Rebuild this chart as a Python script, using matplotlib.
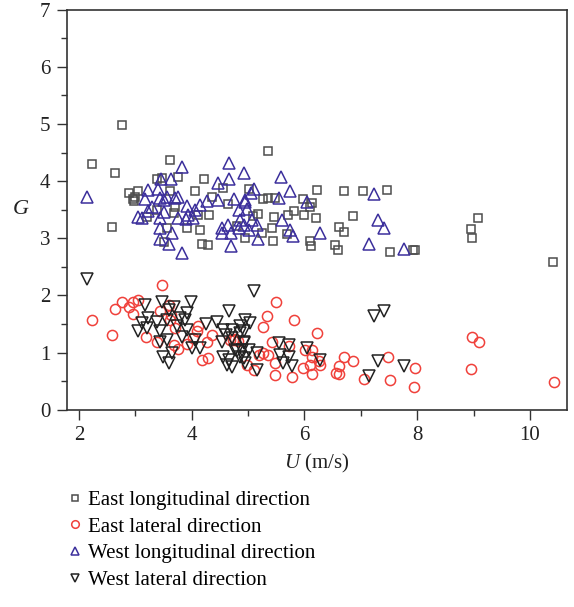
import matplotlib
matplotlib.use("Agg")
import matplotlib.pyplot as plt
from matplotlib.ticker import MultipleLocator

plt.rcParams['font.family'] = ['Liberation Serif', 'DejaVu Serif']
plt.rcParams['mathtext.fontset'] = 'custom'
plt.rcParams['mathtext.it'] = 'Liberation Serif:italic'
plt.rcParams['mathtext.rm'] = 'Liberation Serif'

# East longitudinal direction (squares)
el_u = [2.76, 2.23, 2.64, 3.62, 3.47, 3.38, 3.76, 4.21, 2.88, 3.04, 2.96, 2.97, 3.62, 4.06,
        4.55, 4.36, 3.38, 3.71, 3.68, 4.30, 4.11, 3.20, 3.91, 4.15, 3.56, 2.58, 3.50, 4.18,
        4.29, 4.80, 5.36, 6.22, 6.71, 7.04, 7.47, 5.01, 5.26, 5.35, 5.48, 5.98, 6.13, 5.81,
        6.09, 5.18, 5.08, 5.46, 5.70, 6.00, 6.20, 6.87, 5.42, 5.25, 4.95, 5.45, 5.69, 6.10,
        6.12, 6.62, 6.71, 6.55, 6.59, 7.51, 9.08, 8.96, 8.97, 7.97, 7.93, 10.41, 3.00, 4.65]
el_g = [4.98, 4.30, 4.14, 4.37, 4.05, 4.04, 4.07, 4.04, 3.79, 3.83, 3.68, 3.65, 3.83, 3.83,
        3.88, 3.72, 3.50, 3.55, 3.44, 3.41, 3.41, 3.37, 3.18, 3.15, 3.18, 3.19, 2.94, 2.90,
        2.88, 3.22, 4.53, 3.85, 3.82, 3.83, 3.85, 3.86, 3.69, 3.71, 3.71, 3.69, 3.61, 3.48,
        3.54, 3.43, 3.39, 3.38, 3.41, 3.40, 3.36, 3.39, 3.18, 3.09, 3.00, 2.95, 3.07, 2.96,
        2.87, 3.19, 3.11, 2.88, 2.80, 2.76, 3.36, 3.16, 3.01, 2.80, 2.80, 2.59, 3.72, 3.60]

# East lateral direction (circles)
ela_u = [2.23, 2.59, 2.64, 2.76, 2.88, 2.96, 3.04, 2.96, 3.48, 3.44, 3.59, 3.62, 3.19, 3.38,
         3.71, 3.68, 3.76, 3.91, 4.12, 4.09, 4.36, 4.27, 4.18, 4.29, 4.74, 4.02, 3.64, 4.68,
         5.50, 5.33, 5.26, 5.81, 6.22, 5.42, 4.77, 5.27, 5.36, 5.48, 5.72, 6.01, 6.13, 6.10,
         5.98, 6.28, 6.25, 6.13, 5.78, 5.48, 5.10, 4.98, 6.71, 6.87, 6.62, 6.56, 6.61, 7.05,
         7.48, 7.51, 7.97, 7.95, 8.98, 9.09, 8.95, 10.42, 5.19, 6.13, 4.82]
ela_g = [1.57, 1.30, 1.76, 1.89, 1.80, 1.89, 1.92, 1.68, 2.19, 1.72, 1.84, 1.57, 1.27, 1.18,
         1.43, 1.14, 1.06, 1.15, 1.47, 1.37, 1.31, 1.19, 0.87, 0.90, 1.22, 1.25, 1.66, 1.22,
         1.89, 1.64, 1.45, 1.57, 1.35, 1.18, 1.24, 0.99, 0.96, 0.82, 1.11, 1.05, 0.93, 0.79,
         0.73, 0.79, 0.85, 0.63, 0.58, 0.61, 0.70, 0.79, 0.92, 0.86, 0.77, 0.64, 0.63, 0.54,
         0.93, 0.52, 0.73, 0.40, 1.28, 1.19, 0.72, 0.49, 0.96, 1.05, 1.20]

# West longitudinal direction (up triangles)
wl_u = [2.15, 3.82, 4.66, 3.45, 3.64, 4.46, 4.66, 3.23, 3.41, 3.17, 3.44, 3.56, 3.71, 3.76,
        3.50, 4.27, 4.46, 4.75, 3.91, 4.15, 3.23, 3.50, 4.06, 3.05, 3.11, 3.44, 3.75, 3.90,
        4.02, 3.44, 3.65, 3.44, 3.59, 3.82, 4.53, 4.65, 4.53, 4.70, 4.70, 4.84, 4.92, 4.95,
        4.98, 4.92, 5.59, 5.10, 5.05, 5.74, 5.54, 6.04, 4.95, 5.60, 4.86, 5.07, 5.15, 4.83,
        5.01, 5.75, 5.79, 5.17, 6.28, 7.24, 7.30, 7.41, 7.15, 7.76, 3.30, 3.93]
wl_g = [3.73, 4.25, 4.32, 4.03, 4.03, 3.96, 4.03, 3.85, 3.86, 3.68, 3.70, 3.73, 3.70, 3.73,
        3.67, 3.66, 3.67, 3.69, 3.57, 3.58, 3.48, 3.46, 3.50, 3.37, 3.35, 3.35, 3.35, 3.33,
        3.35, 3.18, 3.09, 2.98, 2.90, 2.75, 3.18, 3.23, 3.09, 3.10, 2.86, 3.50, 4.14, 3.67,
        3.52, 3.23, 4.07, 3.86, 3.79, 3.82, 3.70, 3.63, 3.64, 3.32, 3.32, 3.32, 3.23, 3.18,
        3.15, 3.15, 3.04, 2.98, 3.09, 3.78, 3.32, 3.18, 2.90, 2.81, 3.55, 3.40]

# West lateral direction (down triangles)
wla_u = [2.15, 3.17, 3.48, 3.59, 3.69, 3.99, 3.91, 3.23, 3.11, 3.39, 3.56, 3.79, 3.88, 3.05,
         3.21, 3.44, 3.74, 3.91, 3.43, 3.57, 3.82, 4.06, 4.00, 4.15, 3.49, 3.65, 3.59, 4.25,
         4.44, 4.56, 4.71, 4.53, 4.71, 4.66, 4.55, 4.67, 4.62, 4.71, 4.80, 4.86, 4.92, 4.92,
         5.10, 4.95, 5.04, 4.86, 4.92, 4.92, 4.77, 4.89, 5.01, 5.15, 4.86, 4.95, 5.15, 5.54,
         5.72, 5.57, 5.72, 5.62, 5.78, 6.04, 6.27, 7.24, 7.41, 7.31, 7.15, 7.76, 4.60]
wla_g = [2.28, 1.84, 1.89, 1.75, 1.79, 1.88, 1.69, 1.60, 1.52, 1.54, 1.57, 1.60, 1.57, 1.37,
         1.43, 1.37, 1.46, 1.40, 1.19, 1.22, 1.28, 1.22, 1.08, 1.08, 0.92, 0.99, 0.82, 1.50,
         1.54, 1.40, 1.40, 1.19, 1.25, 1.73, 0.93, 0.87, 0.79, 0.75, 1.02, 1.35, 1.17, 0.90,
         2.07, 1.57, 1.52, 1.46, 1.37, 1.19, 1.05, 1.05, 1.05, 0.99, 0.93, 0.82, 0.70, 1.17,
         1.14, 0.96, 0.92, 0.82, 0.76, 1.08, 0.87, 1.64, 1.73, 0.86, 0.59, 0.77, 1.30]

labels = ["East longitudinal direction", "East lateral direction",
          "West longitudinal direction", "West lateral direction"]

fig = plt.figure(figsize=(5.74, 6.07), dpi=100)
ax = fig.add_axes([0.117, 0.325, 0.871, 0.659])

lw = 1.1
h1, = ax.plot(el_u, el_g, ls='none', marker='s', ms=6.2, mfc='none', mec='#4d4d4d', mew=lw)
h2, = ax.plot(ela_u, ela_g, ls='none', marker='o', ms=7.3, mfc='none', mec='#f0403a', mew=lw)
h3, = ax.plot(wl_u, wl_g, ls='none', marker='^', ms=8.3, mfc='none', mec='#3c2f9c', mew=lw)
h4, = ax.plot(wla_u, wla_g, ls='none', marker='v', ms=8.3, mfc='none', mec='#222222', mew=lw)

ax.set_xlim(1.79, 10.66)
ax.set_ylim(0, 7)
ax.xaxis.set_major_locator(MultipleLocator(2))
ax.xaxis.set_minor_locator(MultipleLocator(1))
ax.yaxis.set_major_locator(MultipleLocator(1))
ax.yaxis.set_minor_locator(MultipleLocator(0.5))
ax.tick_params(which='both', direction='out', width=1.0, color='#333333',
               labelsize=15, labelcolor='#222222', top=False, right=False)
ax.tick_params(which='major', length=7, pad=5)
ax.tick_params(which='minor', length=4)
for s in ax.spines.values():
    s.set_linewidth(1.2)
    s.set_color('#333333')

ax.set_xlabel(r'$U$ (m/s)', fontsize=15, color='#222222', labelpad=5)
ax.set_ylabel(r'$G$', fontsize=16, rotation=0, color='#222222', labelpad=14, va='center')

fig.legend([h1, h2, h3, h4], labels, loc='upper left', bbox_to_anchor=(0.102, 0.206),
           frameon=False, fontsize=15, markerscale=0.75, handlelength=0.8,
           handletextpad=0.23, labelspacing=0.34, borderaxespad=0)

fig.savefig("out.png", dpi=100)
